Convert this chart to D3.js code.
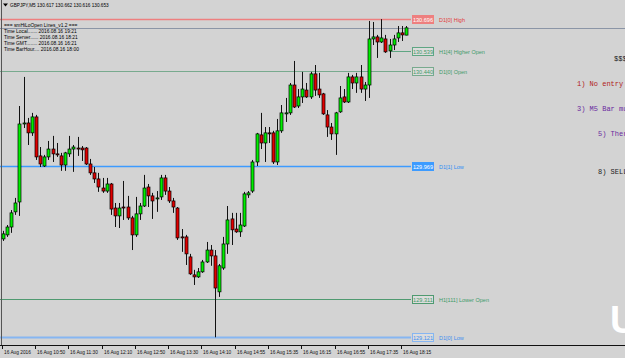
<!DOCTYPE html>
<html><head><meta charset="utf-8">
<script src="https://cdn.jsdelivr.net/npm/d3@7/dist/d3.min.js"></script>
<style>body{margin:0;background:#d3d3d3;overflow:hidden}svg{display:block}</style>
</head><body>
<script>
// ---- data ----
const symbol = "GBPJPY,M5";
const barIndex = d3.range(98);
const open = [129.608,129.628,129.667,129.742,129.791,130.177,130.182,130.133,130.212,130.019,129.969,130.014,130.053,130.029,130.019,129.974,130.029,130.053,130.058,130.058,130.058,129.979,129.935,129.905,129.860,129.845,129.880,129.761,129.722,129.766,129.766,129.712,129.628,129.732,129.771,129.865,129.821,129.806,129.816,129.910,129.845,129.796,129.761,129.618,129.618,129.519,129.430,129.420,129.445,129.494,129.553,129.524,129.346,129.464,129.583,129.707,129.657,129.643,129.672,129.826,129.845,129.989,130.123,130.083,130.133,130.133,129.989,130.143,130.227,130.232,130.370,130.266,130.311,130.345,130.311,130.425,130.350,130.326,130.222,130.162,130.128,130.237,130.311,130.286,130.410,130.380,130.410,130.350,130.370,130.598,130.608,130.583,130.598,130.539,130.568,130.603,130.628,130.617];
const high = [129.648,129.677,129.751,129.811,130.266,130.410,130.207,130.232,130.222,130.063,130.024,130.093,130.118,130.083,130.034,130.039,130.118,130.073,130.113,130.068,130.063,130.004,129.964,129.935,129.910,129.910,129.885,129.786,129.786,129.895,129.821,129.722,129.816,129.786,129.925,129.880,129.836,129.845,129.925,129.925,129.865,129.811,129.766,129.657,129.628,129.534,129.455,129.464,129.504,129.593,129.578,129.553,129.484,129.618,129.771,129.737,129.737,129.737,129.841,129.845,129.999,130.133,130.232,130.162,130.162,130.143,130.202,130.271,130.306,130.380,130.489,130.350,130.435,130.380,130.435,130.469,130.430,130.331,130.246,130.182,130.237,130.365,130.350,130.430,130.420,130.430,130.469,130.385,130.687,130.682,130.618,130.696,130.618,130.598,130.618,130.662,130.662,130.662];
const low = [129.598,129.618,129.638,129.727,129.722,130.157,130.073,130.118,129.999,129.964,129.964,129.999,129.989,130.014,129.945,129.945,130.014,129.940,130.019,129.994,129.974,129.925,129.885,129.841,129.836,129.836,129.727,129.667,129.662,129.702,129.702,129.553,129.618,129.702,129.766,129.766,129.707,129.742,129.801,129.826,129.786,129.737,129.603,129.544,129.479,129.430,129.380,129.415,129.440,129.489,129.475,129.121,129.321,129.455,129.534,129.578,129.638,129.618,129.667,129.811,129.836,129.969,130.053,129.989,130.083,129.979,129.974,130.133,130.187,130.222,130.256,130.256,130.281,130.306,130.301,130.316,130.306,130.222,130.113,130.098,130.024,130.232,130.281,130.281,130.350,130.331,130.331,130.291,130.306,130.568,130.504,130.578,130.529,130.504,130.543,130.583,130.588,130.616];
const close = [129.633,129.667,129.737,129.786,130.177,130.182,130.133,130.212,130.014,129.979,130.014,130.053,130.029,130.024,129.974,130.034,130.053,130.063,130.053,130.049,129.979,129.935,129.905,129.865,129.845,129.880,129.756,129.722,129.761,129.765,129.712,129.628,129.732,129.771,129.860,129.821,129.796,129.811,129.910,129.845,129.796,129.766,129.613,129.613,129.534,129.435,129.420,129.445,129.494,129.553,129.524,129.365,129.475,129.583,129.702,129.653,129.643,129.677,129.831,129.836,129.989,130.128,130.083,130.133,130.132,129.989,130.143,130.232,130.232,130.370,130.261,130.311,130.350,130.311,130.425,130.345,130.321,130.227,130.162,130.128,130.232,130.306,130.286,130.410,130.380,130.410,130.350,130.370,130.598,130.608,130.583,130.603,130.534,130.568,130.598,130.628,130.618,130.653];
const tickBars = [0,8,16,24,32,40,48,56,64,72,80,88,96];
const tickLabels = ["16 Aug 2016","16 Aug 10:50","16 Aug 11:30","16 Aug 12:10","16 Aug 12:50","16 Aug 13:30","16 Aug 14:10","16 Aug 14:55","16 Aug 15:35","16 Aug 16:15","16 Aug 16:55","16 Aug 17:35","16 Aug 18:15"];
const levelNames = ["D1[0] High","H1[4] Higher Open","D1[0] Open","D1[1] Low","H1[111] Lower Open","D1[0] Low"];
const levelPrices = [130.696,130.539,130.440,129.969,129.311,129.121];
const levelStartBar = [0,93,0,0,0,0];
const infoLines = ["=== smHiLoOpen Lines_v1.2 ===","Time Local....... 2016.08.16 19:21","Time Server...... 2016.08.16 18:21","Time GMT........ 2016.08.16 16:21","Time BarHour.... 2016.08.16 18:00"];
const noteLines = ["$$$","1) No entry","3) M5 Bar mu","5) Ther","8) SELL"];

// ---- drawing ----
const W = 625, H = 358;
const svg = d3.select("body").append("svg").attr("width", W).attr("height", H);
svg.append("rect").attr("width", W).attr("height", H).attr("fill", "#d3d3d3");

const x = d3.scaleLinear().domain([0, 97]).range([2.7, 406.3]);
const y = d3.scaleLinear().domain([129.121, 130.696]).range([337.3, 19.15]);
const fmt = d3.format(".3f");

const levelColor = {"D1[0] High":"#ee7f7f","H1[4] Higher Open":"#5fa683","D1[0] Open":"#78aa8e","D1[1] Low":"#3d9bff","H1[111] Lower Open":"#4f9a70","D1[0] Low":"#86b6f2"};
const levelText = {"D1[0] High":"#e23c3c","H1[4] Higher Open":"#3f9a68","D1[0] Open":"#3f9a68","D1[1] Low":"#2e8ef5","H1[111] Lower Open":"#3f9a68","D1[0] Low":"#3f8fef"};
const levelWidth = {"D1[0] High":1.6,"H1[4] Higher Open":1,"D1[0] Open":1,"D1[1] Low":1.3,"H1[111] Lower Open":1,"D1[0] Low":2};
const fontSans = "'Liberation Sans', Arial, sans-serif";

// bid line
const lastClose = close[close.length-1];
svg.append("line").attr("x1",0).attr("x2",W)
  .attr("y1", Math.round(y(lastClose))+0.5).attr("y2", Math.round(y(lastClose))+0.5)
  .attr("stroke","#8b95a6").attr("stroke-width",1);

// level lines
const lvl = svg.append("g");
levelNames.forEach((n,i)=>{
  const yy = Math.round(y(levelPrices[i]))+0.5;
  const xs = levelStartBar[i] === 0 ? 0 : x(levelStartBar[i]);
  lvl.append("line").attr("x1",xs).attr("x2",411).attr("y1",yy).attr("y2",yy)
    .attr("stroke",levelColor[n]).attr("stroke-width",levelWidth[n]);
});

// left border
svg.append("line").attr("x1",1.5).attr("x2",1.5).attr("y1",0).attr("y2",345).attr("stroke","#555").attr("stroke-width",1);

// candles
const g = svg.append("g");
barIndex.forEach(i=>{
  const cx = Math.round(x(i));
  const up = close[i] >= open[i];
  g.append("line").attr("x1",cx+0.5).attr("x2",cx+0.5)
    .attr("y1",y(high[i])).attr("y2",y(low[i]))
    .attr("stroke","#111").attr("stroke-width",1);
  const top = y(Math.max(open[i],close[i])), bot = y(Math.min(open[i],close[i]));
  g.append("rect").attr("x",cx-1).attr("width",3)
    .attr("y",top).attr("height",Math.max(1,bot-top))
    .attr("fill", up ? "#00ee00" : "#e00000")
    .attr("stroke","#000").attr("stroke-width",0.7);
});

// level labels
levelNames.forEach((n,i)=>{
  const yy = Math.round(y(levelPrices[i]))+0.5;
  const c = levelColor[n];
  const filled = (n === "D1[1] Low" || n === "D1[0] High");
  svg.append("rect").attr("x",412.5).attr("y",yy-4).attr("width",21).attr("height",8)
    .attr("fill", filled ? c : "#dcdcdc").attr("stroke",c).attr("stroke-width",1);
  svg.append("text").attr("x",423).attr("y",yy+2).attr("text-anchor","middle")
    .attr("font-family",fontSans).attr("font-size",5.6)
    .attr("fill", filled ? "#ffffff" : levelText[n]).text(fmt(levelPrices[i]));
  svg.append("text").attr("x",439).attr("y",yy+2)
    .attr("font-family",fontSans).attr("font-size",5.5)
    .attr("fill",levelText[n]).text(n);
});

// bottom axis
svg.append("line").attr("x1",0).attr("x2",W).attr("y1",345.5).attr("y2",345.5).attr("stroke","#111").attr("stroke-width",1);
tickBars.forEach((b,i)=>{
  const tx = Math.round(x(b))-0.5;
  svg.append("line").attr("x1",tx).attr("x2",tx).attr("y1",345).attr("y2",349).attr("stroke","#111");
  svg.append("text").attr("x",tx+1.5).attr("y",353.5)
    .attr("font-family",fontSans).attr("font-size",4.8).attr("fill","#111").text(tickLabels[i]);
});

// title
svg.append("path").attr("d","M3,3.5 L8,3.5 L5.5,6.5 Z").attr("fill","#000");
svg.append("text").attr("x",10).attr("y",7).attr("font-family",fontSans).attr("font-size",4.7)
  .attr("fill","#000").text(symbol+"  "+[open[97],high[97],low[97],close[97]].map(fmt).join(" "));

// info block
const infoY = [26.8,32.9,39.1,45.2,51.4];
infoLines.forEach((t,i)=>{
  svg.append("text").attr("x",4).attr("y",infoY[i]).attr("font-family",fontSans)
    .attr("font-size",4.9).attr("fill","#000").text(t);
});

// notes on the right (cut by the window edge, as in the reference)
const noteX = [614,577,577,598,598];
const noteY = [60.5,85.5,110.5,135.5,173.5];
const noteColor = ["#222","#b02020","#6a2aa0","#6a2aa0","#222"];
noteLines.forEach((t,i)=>{
  svg.append("text").attr("x",noteX[i]).attr("y",noteY[i])
    .attr("font-family","'Liberation Mono', 'Courier New', monospace").attr("font-size",7)
    .attr("fill",noteColor[i]).text(t);
});

// watermark letter
svg.append("text").attr("x",610).attr("y",333).attr("font-family",fontSans)
  .attr("font-weight","bold").attr("font-size",38).attr("fill","#ffffff").text("U");
</script>
</body></html>
